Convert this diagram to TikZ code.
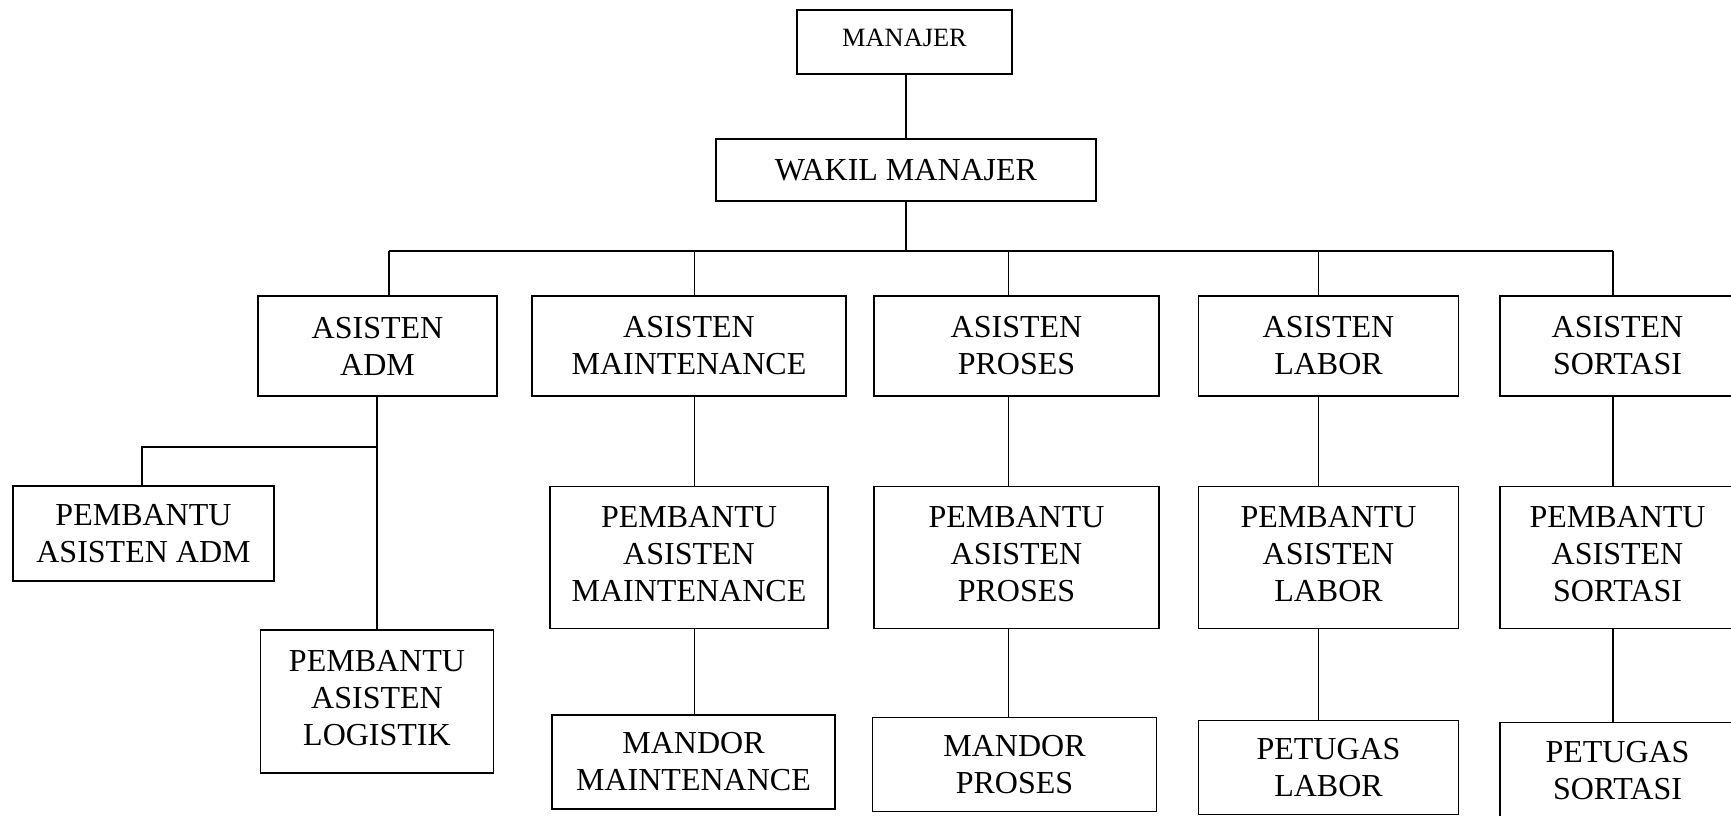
\documentclass[tikz,border=0pt]{standalone}
\usepackage{fontspec}
\setmainfont{Liberation Serif}
\begin{document}
\begin{tikzpicture}[x=1pt,y=-1pt,
  box/.style={draw, line width=1.8pt, align=center, inner sep=0pt,
    font=\fontsize{32}{37}\selectfont},
  up/.style={text depth=#1},
  conn/.style={line width=1.8pt}]
\useasboundingbox (0,0) rectangle (1731,816);

% top
\node[box, up=8.8pt, minimum width=215pt, minimum height=64pt, font=\fontsize{26.4}{30}\selectfont] (man) at (904.5,42) {MANAJER};
\node[box, minimum width=380pt, minimum height=62pt] (wakil) at (906,170) {WAKIL MANAJER};

% row 1
\node[box, minimum width=239pt, minimum height=100pt] (adm) at (377.5,346) {ASISTEN\\ADM};
\node[box, minimum width=314pt, minimum height=100pt] (mnt) at (689,346) {ASISTEN\\MAINTENANCE};
\node[box, minimum width=285pt, minimum height=100pt] (pro) at (1016.5,346) {ASISTEN\\PROSES};
\node[box, minimum width=260pt, minimum height=100pt] (lab) at (1328.5,346) {ASISTEN\\LABOR};
\node[box, minimum width=235pt, minimum height=100pt] (sor) at (1617.5,346) {ASISTEN\\SORTASI};

% row 2
\node[box, minimum width=261pt, minimum height=95pt] (padm) at (143.5,533.5) {PEMBANTU\\ASISTEN ADM};
\node[box, up=6.6pt, minimum width=233pt, minimum height=143pt] (plog) at (377,701.5) {PEMBANTU\\ASISTEN\\LOGISTIK};
\node[box, up=6.6pt, minimum width=278pt, minimum height=142pt] (pmnt) at (689,557.5) {PEMBANTU\\ASISTEN\\MAINTENANCE};
\node[box, up=6.6pt, minimum width=285pt, minimum height=142pt] (ppro) at (1016.5,557.5) {PEMBANTU\\ASISTEN\\PROSES};
\node[box, up=6.6pt, minimum width=260pt, minimum height=142pt] (plab) at (1328.5,557.5) {PEMBANTU\\ASISTEN\\LABOR};
\node[box, up=6.6pt, minimum width=235pt, minimum height=142pt] (psor) at (1617.5,557.5) {PEMBANTU\\ASISTEN\\SORTASI};

% row 3
\node[box, minimum width=283pt, minimum height=94pt] (mmnt) at (693.5,762) {MANDOR\\MAINTENANCE};
\node[box, minimum width=284pt, minimum height=94pt] (mpro) at (1014.5,764.5) {MANDOR\\PROSES};
\node[box, minimum width=260pt, minimum height=94pt] (tlab) at (1328.5,767.5) {PETUGAS\\LABOR};
\node[box, minimum width=235pt, minimum height=97pt] (tsor) at (1617.5,771) {PETUGAS\\SORTASI};

% bus coordinates
\coordinate (b1) at (388.6,250.6);
\coordinate (b2) at (694.5,250.6);
\coordinate (b3) at (1008.5,250.6);
\coordinate (b4) at (1318.5,250.6);
\coordinate (b5) at (1612.8,250.6);
\coordinate (a1) at (376.6,446.7);
\coordinate (a2) at (141.8,446.7);

% connectors
\draw[conn] (wakil.north |- man.south) -- (wakil.north);
\draw[conn] (wakil.south) -- (wakil.south |- b1);
\draw[conn] (b1) -- (b5);
\draw[conn] (b1) -- (b1 |- adm.north);
\draw[conn] (b2) -- (b2 |- mnt.north);
\draw[conn] (b3) -- (b3 |- pro.north);
\draw[conn] (b4) -- (b4 |- lab.north);
\draw[conn] (b5) -- (b5 |- sor.north);

\draw[conn] (a1 |- adm.south) -- (a1 |- plog.north);
\draw[conn] (a1) -- (a2) -- (a2 |- padm.north);

\draw[conn] (b2 |- mnt.south) -- (b2 |- pmnt.north);
\draw[conn] (b2 |- pmnt.south) -- (b2 |- mmnt.north);
\draw[conn] (b3 |- pro.south) -- (b3 |- ppro.north);
\draw[conn] (b3 |- ppro.south) -- (b3 |- mpro.north);
\draw[conn] (b4 |- lab.south) -- (b4 |- plab.north);
\draw[conn] (b4 |- plab.south) -- (b4 |- tlab.north);
\draw[conn] (b5 |- sor.south) -- (b5 |- psor.north);
\draw[conn] (b5 |- psor.south) -- (b5 |- tsor.north);
\end{tikzpicture}
\end{document}
